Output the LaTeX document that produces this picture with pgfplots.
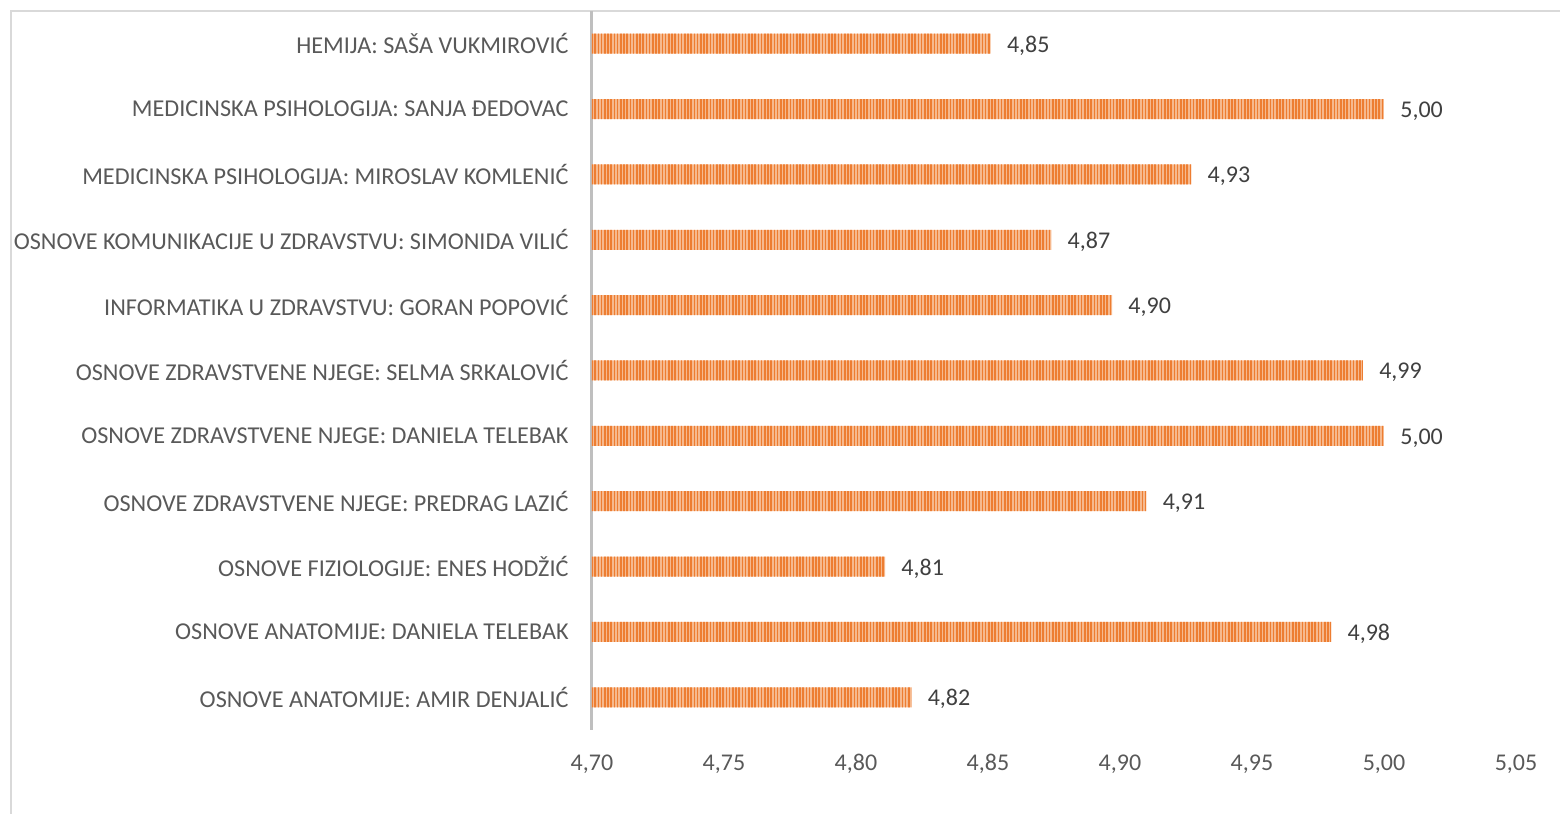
\documentclass[border=0pt]{standalone}
\usepackage{pgfplots}
\pgfplotsset{compat=1.18}
\usepackage{fontspec}
\setmainfont{Carlito}
\usetikzlibrary{patterns.meta}
\definecolor{barorange}{HTML}{ED7D31}
\definecolor{barlight}{HTML}{F6B98E}
\definecolor{txtgray}{HTML}{595959}
\definecolor{lblgray}{HTML}{404040}
\definecolor{axgray}{HTML}{BFBFBF}
\definecolor{bordergray}{HTML}{D9D9D9}
\begin{document}
\begin{tikzpicture}
\useasboundingbox (-296pt,-42pt) rectangle (484pt,365pt);
\draw[bordergray, line width=0.8pt] (-290.5pt,-45pt) -- (-290.5pt,359.5pt) -- (490pt,359.5pt);
\begin{axis}[
  at={(0,0)}, anchor=south west,
  scale only axis,
  width=462pt, height=359.5pt,
  xbar, bar width=10pt,
  xmin=4.70, xmax=5.05,
  ymin=-0.5, ymax=10.5,
  xtick={4.70,4.75,4.80,4.85,4.90,4.95,5.00,5.05},
  ytick={0,...,10},
  yticklabels={
    OSNOVE ANATOMIJE: AMIR DENJALIĆ,
    OSNOVE ANATOMIJE: DANIELA TELEBAK,
    OSNOVE FIZIOLOGIJE: ENES HODŽIĆ,
    OSNOVE ZDRAVSTVENE NJEGE: PREDRAG LAZIĆ,
    OSNOVE ZDRAVSTVENE NJEGE: DANIELA TELEBAK,
    OSNOVE ZDRAVSTVENE NJEGE: SELMA SRKALOVIĆ,
    INFORMATIKA U ZDRAVSTVU: GORAN POPOVIĆ,
    OSNOVE KOMUNIKACIJE U ZDRAVSTVU: SIMONIDA VILIĆ,
    MEDICINSKA PSIHOLOGIJA: MIROSLAV KOMLENIĆ,
    MEDICINSKA PSIHOLOGIJA: SANJA ĐEDOVAC,
    HEMIJA: SAŠA VUKMIROVIĆ},
  major tick length=0pt,
  axis x line*=bottom, axis y line*=left,
  x axis line style={draw=none},
  y axis line style={draw=axgray, line width=1.5pt},
  /pgf/number format/.cd, use comma, fixed, fixed zerofill, precision=2, assume math mode=true,
  /pgfplots/.cd,
  xticklabel style={font=\fontsize{12}{13}\selectfont, text=txtgray, anchor=center, yshift=-17pt},
  yticklabel style={font=\fontsize{12.1}{13}\selectfont, text=txtgray, anchor=east, inner sep=0pt, xshift=-11.5pt},
  nodes near coords,
  every node near coord/.append style={font=\fontsize{12}{13}\selectfont, text=lblgray, anchor=west, inner sep=0pt, xshift=8pt, yshift=-1pt},
  clip=true,
]
\addplot[draw=none, fill=barlight,
  postaction={pattern={Lines[angle=90, distance=1.6pt, line width=0.8pt]}, pattern color=barorange}]
  coordinates {
  (4.821,0) (4.980,1) (4.811,2) (4.910,3) (5.000,4) (4.992,5)
  (4.897,6) (4.874,7) (4.927,8) (5.000,9) (4.851,10)};
\end{axis}
\end{tikzpicture}
\end{document}
